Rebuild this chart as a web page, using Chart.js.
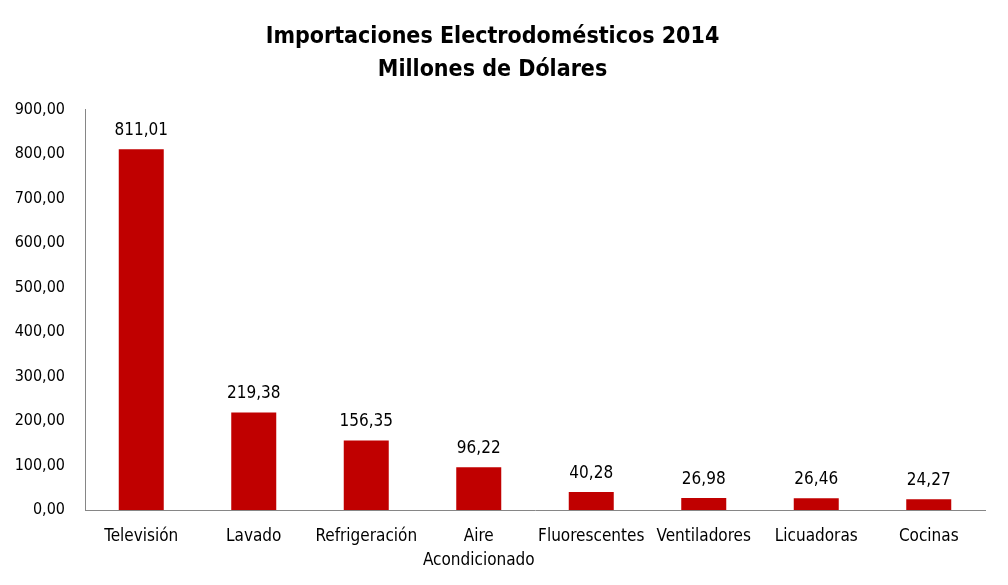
<!DOCTYPE html>
<html>
<head>
<meta charset="utf-8">
<script src="https://cdn.jsdelivr.net/npm/chart.js@4"></script>
<style>
  html, body { margin: 0; padding: 0; background: #fff; }
  #wrap { width: 1008px; height: 585px; }
</style>
</head>
<body>
<div id="wrap"><canvas id="chart"></canvas></div>
<script>
const categories = ["Televisión", "Lavado", "Refrigeración", ["Aire", "Acondicionado"], "Fluorescentes", "Ventiladores", "Licuadoras", "Cocinas"];
const importValues = [811.01, 219.38, 156.35, 96.22, 40.28, 26.98, 26.46, 24.27];
const titleLines = ["Importaciones Electrodomésticos 2014", "Millones de Dólares"];

const FONT = "'Liberation Sans Narrow', 'Arial Narrow', 'DejaVu Sans Condensed', sans-serif";
const fmt = v => v.toFixed(2).replace(".", ",");

// Value labels above bars
const valueLabels = {
  id: "valueLabels",
  afterDatasetsDraw(chart) {
    const ctx = chart.ctx;
    const meta = chart.getDatasetMeta(0);
    ctx.save();
    ctx.font = "17px " + FONT;
    ctx.fillStyle = "#000";
    ctx.textAlign = "center";
    ctx.textBaseline = "bottom";
    meta.data.forEach((bar, i) => {
      ctx.fillText(fmt(importValues[i]), bar.x, bar.y - 10);
    });
    ctx.restore();
  }
};

new Chart(document.getElementById("chart"), {
  type: "bar",
  data: {
    labels: categories,
    datasets: [{
      data: importValues,
      backgroundColor: "#c00000",
      categoryPercentage: 1,
      barPercentage: 0.4
    }]
  },
  options: {
    responsive: true,
    maintainAspectRatio: false,
    animation: false,
    layout: { padding: { top: 10, right: 23, left: 0, bottom: 0 } },
    plugins: {
      legend: { display: false },
      tooltip: { enabled: false },
      title: {
        display: true,
        text: titleLines,
        color: "#000",
        font: { family: FONT, size: 23, weight: "bold", lineHeight: 1.43 },
        padding: { top: 11, bottom: 23 }
      }
    },
    scales: {
      x: {
        grid: { display: false, drawTicks: false },
        border: { color: "#868686", width: 1 },
        afterFit(scale) { scale.height = 75; },
        ticks: {
          color: "#000",
          font: { family: FONT, size: 17, lineHeight: 1.4 },
          padding: 15,
          maxRotation: 0,
          autoSkip: false
        }
      },
      y: {
        min: 0,
        max: 900,
        grid: { display: false, drawTicks: false },
        border: { color: "#868686", width: 1 },
        afterFit(scale) { scale.width = 85; },
        ticks: {
          stepSize: 100,
          color: "#000",
          font: { family: FONT, size: 16 },
          padding: 20,
          callback: v => fmt(v)
        }
      }
    }
  },
  plugins: [valueLabels]
});
</script>
</body>
</html>
